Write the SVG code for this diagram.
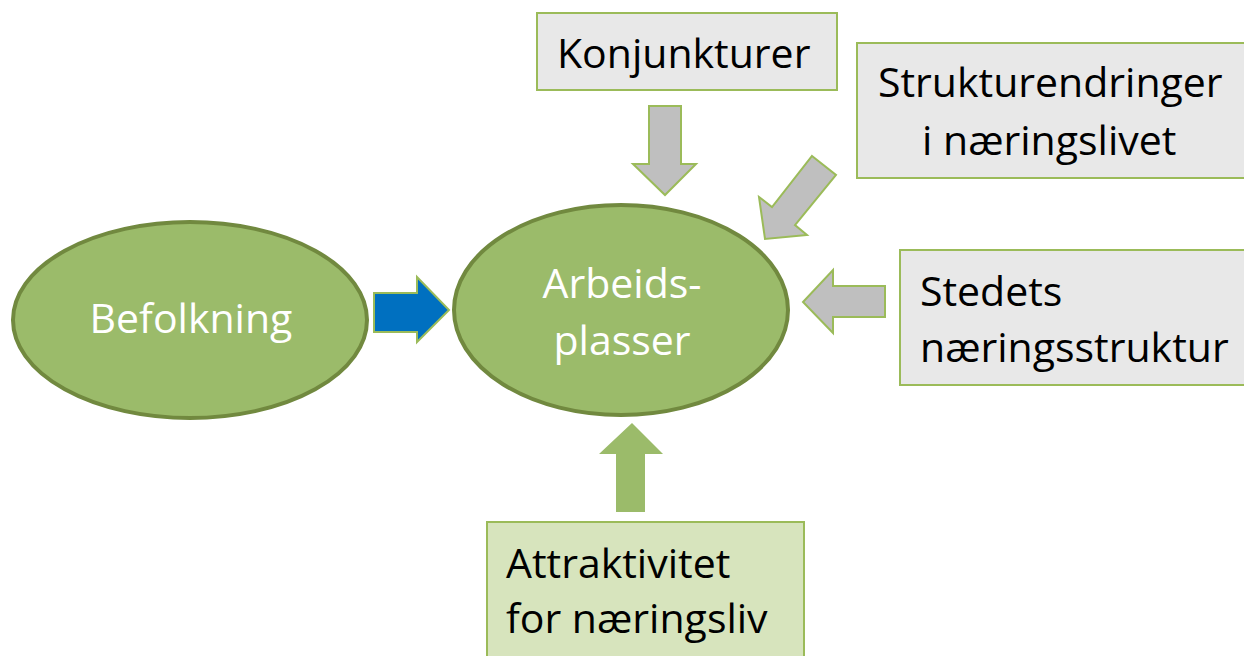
<svg xmlns="http://www.w3.org/2000/svg" width="1244" height="656" viewBox="0 0 1244 656">
<style>
.ell{fill:#9BBB6A;stroke:#71893F;stroke-width:4}
.box{fill:#E8E8E8;stroke:#9BBB59;stroke-width:2}
.gbox{fill:#D7E4BD;stroke:#9BBB59;stroke-width:2}
.garr{fill:#BFBFBF;stroke:#9BBB59;stroke-width:2;stroke-linejoin:miter}
.t{font-family:"Open Sans","Noto Sans",sans-serif;font-size:41px;fill:#000}
.w{fill:#fff}
</style>
<rect width="1244" height="656" fill="#fff"/>
<g id="befolkning">
<ellipse class="ell" cx="190" cy="320" rx="177" ry="98"/>
<text class="t w" x="191" y="333" text-anchor="middle">Befolkning</text>
</g>
<g id="arbeidsplasser">
<ellipse class="ell" cx="621" cy="310" rx="167" ry="105"/>
<text class="t w" x="622" y="298" text-anchor="middle">Arbeids-</text>
<text class="t w" x="622" y="355" text-anchor="middle">plasser</text>
</g>
<g id="konjunkturer">
<rect class="box" x="537" y="13" width="300" height="77"/>
<text class="t" x="557" y="68">Konjunkturer</text>
</g>
<g id="strukturendringer">
<rect class="box" x="857" y="43" width="400" height="135"/>
<text class="t" x="878" y="97">Strukturendringer</text>
<text class="t" x="922" y="155">i næringslivet</text>
</g>
<g id="stedets">
<rect class="box" x="900" y="250" width="360" height="135"/>
<text class="t" x="920" y="306">Stedets</text>
<text class="t" x="920" y="362">næringsstruktur</text>
</g>
<g id="attraktivitet">
<rect class="gbox" x="487" y="522" width="317" height="150"/>
<text class="t" x="506" y="578">Attraktivitet</text>
<text class="t" x="506" y="633">for næringsliv</text>
</g>
<g id="connectors">
<polygon points="374,293 417,293 417,277 449,310 417,342 417,332 374,332" fill="#0070C0" stroke="#9BBB59" stroke-width="2"/>
<polygon class="garr" points="649,106 681,106 681,164 696,164 665,195 633,164 649,164"/>
<polygon class="garr" points="812,156 836,175 795,225 807,235 765,239 759,197 772,207"/>
<polygon class="garr" points="885,286 885,317 833,317 833,333 803,302 833,270 833,286"/>
<polygon points="632,423 663,454 645,454 645,512 616,512 616,454 599,454" fill="#9BBB6A"/>
</g>
</svg>
